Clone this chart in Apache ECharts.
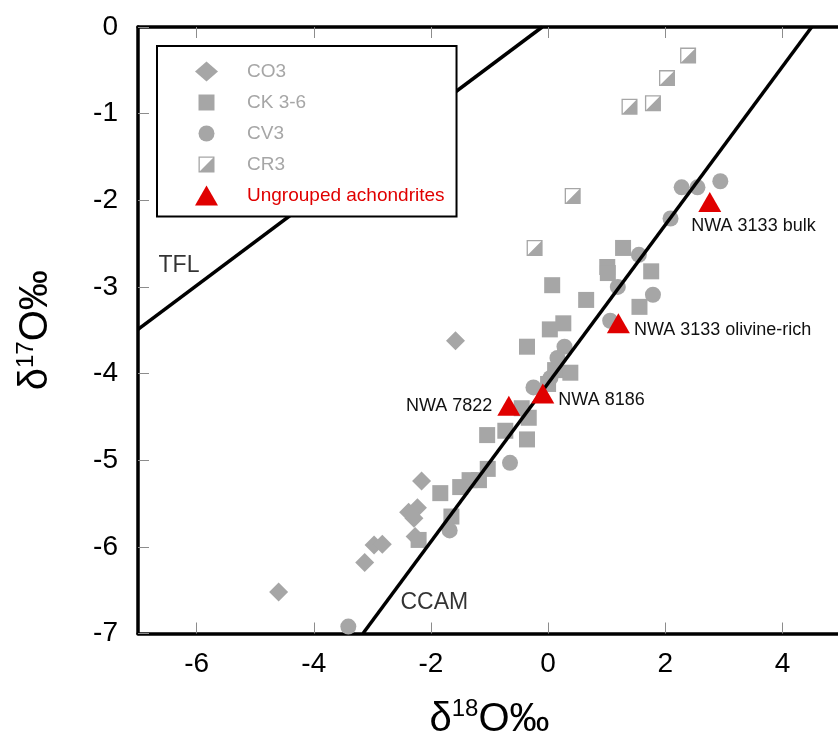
<!DOCTYPE html>
<html><head><meta charset="utf-8">
<script src="https://cdn.jsdelivr.net/npm/echarts@6/dist/echarts.min.js"></script>
<style>html,body{margin:0;padding:0;background:#fff}#c{width:838px;height:735px}</style>
</head><body><div id="c"></div>
<script>
// ---- data ----
const xTickValues = [-6, -4, -2, 0, 2, 4];
const yTickMin = -7, yTickMax = 0;

const co3X = [-1.58, -2.16, -2.23, -2.38, -2.29, -2.27, -2.97, -2.83, -3.13, -4.60];
const co3Y = [-3.62, -5.24, -5.55, -5.60, -5.67, -5.88, -5.98, -5.97, -6.18, -6.52];

const ckX = [1.28, 1.01, 1.02, 1.76, 0.07, 0.65, 1.56, 0.26, 0.03, -0.36, 0.12, 0.38, 0.00,
             -0.45, -0.33, -0.73, -1.04, -0.36, -1.03, -1.18, -1.34, -1.50, -1.84, -1.65, -2.21];
const ckY = [-2.55, -2.77, -2.84, -2.82, -2.98, -3.15, -3.23, -3.42, -3.49, -3.69, -3.96, -3.99, -4.12,
             -4.40, -4.51, -4.66, -4.71, -4.76, -5.10, -5.23, -5.23, -5.31, -5.38, -5.65, -5.92];

const cvX = [2.28, 2.55, 2.94, 2.09, 1.55, 1.19, 1.79, 1.06, 0.28, 0.16, 0.04, -0.25, -0.65, -1.68, -3.41];
const cvY = [-1.85, -1.85, -1.78, -2.21, -2.63, -3.00, -3.09, -3.39, -3.69, -3.82, -4.05, -4.16, -5.03, -5.81, -6.92];

const cr3X = [2.39, 2.03, 1.79, 1.39, 0.42, -0.23];
const cr3Y = [-0.33, -0.59, -0.88, -0.92, -1.95, -2.55];

const ungroupedNames = ['NWA 3133 bulk', 'NWA 3133 olivine-rich', 'NWA 8186', 'NWA 7822'];
const ungroupedX = [2.76, 1.20, -0.09, -0.67];
const ungroupedY = [-2.02, -3.42, -4.23, -4.37];

const tflLine = [[-7, -3.49], [-0.1, 0]];
const ccamLine = [[-3.16, -7], [4.5, 0]];
const lineLabelNames = ['TFL', 'CCAM'];
const lineLabelX = [-6.65, -2.52];
const lineLabelY = [-2.76, -6.64];

const seriesNames = ['CO3', 'CK 3-6', 'CV3', 'CR3', 'Ungrouped achondrites'];

// ---- styles ----
const FONT = 'Liberation Sans, Arial, sans-serif';
const GRAY = '#a6a6a6';
const RED = '#e00000';
const CR3_PATH = 'path://M0,0H16V16H0Z M1.3,1.3V14.7H14.7V1.3Z M14.7,1.3L14.7,14.7L1.3,14.7Z';
const pairs = (xs, ys) => xs.map((x, i) => [x, ys[i]]);

const ungroupedLabelStyles = [
  { position: [-7, 34], align: 'left', verticalAlign: 'middle' },
  { position: 'right', distance: 4, offset: [0, 7] },
  { position: 'right', distance: 4, offset: [0, 7] },
  { position: 'left', distance: 5, offset: [0, 0] }
];

const chart = echarts.init(document.getElementById('c'), null, { renderer: 'canvas' });

const commonTick = { show: true, inside: true, length: 11, lineStyle: { color: '#8c8c8c', width: 1 } };
const nameRich = {
  d: { fontSize: 40, fontFamily: FONT, color: '#000', lineHeight: 44 },
  s: { fontSize: 24, fontFamily: FONT, color: '#000', verticalAlign: 'top', lineHeight: 44, padding: [0, 0, 14, 0] },
  o: { fontSize: 40, fontFamily: FONT, color: '#000', lineHeight: 44 }
};

const option = {
  animation: false,
  backgroundColor: '#fff',
  grid: { left: 138, right: -3, top: 27, bottom: 101.5, containLabel: false, outerBoundsMode: 'none' },
  xAxis: [
    {
      type: 'value', position: 'bottom', min: -7, max: 5,
      axisLine: { show: true, onZero: false, lineStyle: { color: '#000', width: 3.5 } },
      axisTick: Object.assign({ customValues: xTickValues }, commonTick),
      axisLabel: { customValues: xTickValues, fontSize: 28, color: '#000', fontFamily: FONT, margin: 17 },
      splitLine: { show: false },
      name: '{d|δ}{s|18}{o|O‰}',
      nameLocation: 'middle', nameGap: 64,
      nameTextStyle: { color: '#000', fontFamily: FONT, rich: nameRich }
    },
    {
      type: 'value', position: 'top', min: -7, max: 5,
      axisLine: { show: true, onZero: false, lineStyle: { color: '#000', width: 3.5 } },
      axisTick: Object.assign({ customValues: xTickValues }, commonTick),
      axisLabel: { show: false },
      splitLine: { show: false }
    }
  ],
  yAxis: {
    type: 'value', min: yTickMin, max: yTickMax, interval: 1,
    axisLine: { show: true, onZero: false, lineStyle: { color: '#000', width: 3.5 } },
    axisTick: commonTick,
    axisLabel: { fontSize: 28, color: '#000', fontFamily: FONT, margin: 20 },
    splitLine: { show: false },
    name: '{d|δ}{s|17}{o|O‰}',
    nameLocation: 'middle', nameGap: 80,
    nameTextStyle: { color: '#000', fontFamily: FONT, rich: nameRich }
  },
  legend: {
    orient: 'vertical', left: 157, top: 46,
    itemWidth: 23, itemHeight: 20, itemGap: 11,
    padding: [15.5, 12, 11, 38],
    borderColor: '#000', borderWidth: 2, backgroundColor: '#fff',
    selectedMode: false,
    textStyle: { fontSize: 19, fontFamily: FONT, color: GRAY, padding: [0, 0, 0, 24] },
    data: [
      { name: seriesNames[0], icon: 'diamond' },
      { name: seriesNames[1], icon: 'path://M0,0L0,0M20,20L20,20M2,2H18V18H2Z' },
      { name: seriesNames[2], icon: 'path://M0,0L0,0M20,20L20,20M2,10A8,8,0,1,1,18,10A8,8,0,1,1,2,10Z' },
      { name: seriesNames[3], icon: 'path://M0,0L0,0M20,20L20,20M2,2H18V18H2Z M3.3,3.3V16.7H16.7V3.3Z M16.7,3.3L16.7,16.7L3.3,16.7Z' },
      { name: seriesNames[4], icon: 'path://M11.5,0L23,20L0,20Z', textStyle: { color: RED } }
    ]
  },
  series: [
    { name: seriesNames[0], type: 'scatter', symbol: 'diamond', symbolSize: 19, data: pairs(co3X, co3Y),
      itemStyle: { color: GRAY, opacity: 1 }, z: 2, silent: true },
    { name: seriesNames[1], type: 'scatter', symbol: 'rect', symbolSize: 16, data: pairs(ckX, ckY),
      itemStyle: { color: GRAY, opacity: 1 }, z: 2, silent: true },
    { name: seriesNames[2], type: 'scatter', symbol: 'circle', symbolSize: 16, data: pairs(cvX, cvY),
      itemStyle: { color: GRAY, opacity: 1 }, z: 2, silent: true },
    { name: seriesNames[3], type: 'scatter', symbol: CR3_PATH, symbolSize: 16, data: pairs(cr3X, cr3Y),
      itemStyle: { color: GRAY, opacity: 1 }, z: 2, silent: true },
    { name: 'TFL', type: 'line', data: tflLine, symbol: 'none', lineStyle: { color: '#000', width: 3.5 }, z: 3, silent: true },
    { name: 'CCAM', type: 'line', data: ccamLine, symbol: 'none', lineStyle: { color: '#000', width: 3.5 }, z: 3, silent: true },
    { name: 'lineLabels', type: 'scatter', symbolSize: 0.1, itemStyle: { color: 'rgba(0,0,0,0)' }, silent: true, z: 4,
      data: lineLabelNames.map((n, i) => ({ name: n, value: [lineLabelX[i], lineLabelY[i]] })),
      label: { show: true, formatter: '{b}', position: 'right', distance: 0, fontSize: 23, fontFamily: FONT, color: '#000' } },
    { name: seriesNames[4], type: 'scatter', symbol: 'triangle', symbolSize: [23, 20], z: 5, silent: true,
      itemStyle: { color: RED, opacity: 1 },
      data: ungroupedNames.map((n, i) => ({
        name: n, value: [ungroupedX[i], ungroupedY[i]],
        label: Object.assign({ show: true, formatter: '{b}', fontSize: 18, fontFamily: FONT, color: '#111' }, ungroupedLabelStyles[i])
      }))
    }
  ]
};
chart.setOption(option);
</script>
</body></html>
